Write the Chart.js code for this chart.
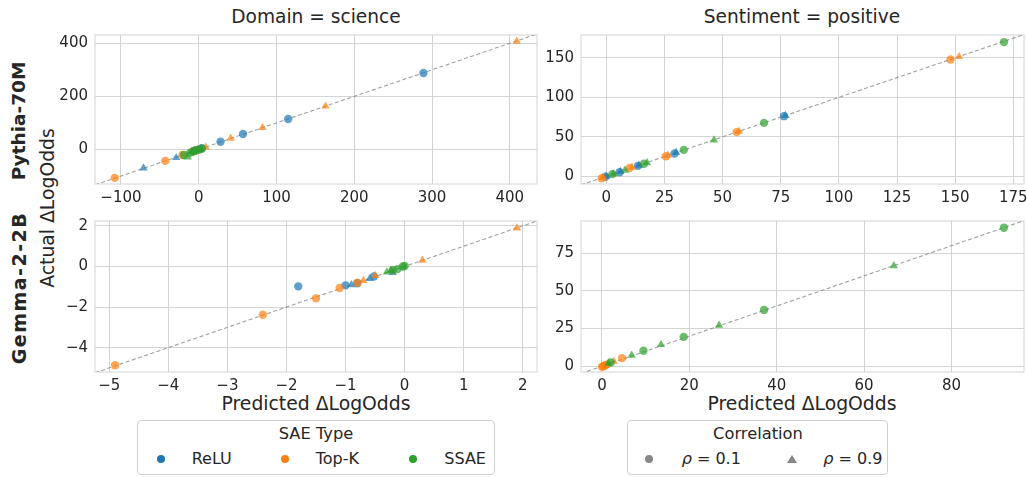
<!DOCTYPE html>
<html><head><meta charset="utf-8">
<script src="https://cdn.jsdelivr.net/npm/chart.js@4.4.0/dist/chart.umd.min.js"></script>
<style>
html,body{margin:0;padding:0;background:#fff;overflow:hidden;width:1027px;height:478px;}
body{position:relative;font-family:"DejaVu Sans",sans-serif;color:#262626;}
canvas{position:absolute;}
.t{position:absolute;white-space:nowrap;transform:translate(-50%,-50%);line-height:1;}
.l{position:absolute;white-space:nowrap;transform:translate(0,-50%);line-height:1;font-size:16px;}
.r{transform:translate(-50%,-50%) rotate(-90deg);}
.leg{position:absolute;border:1px solid #d0d0d0;border-radius:4px;box-sizing:border-box;}
.dot{position:absolute;width:8px;height:8px;border-radius:50%;transform:translate(-50%,-50%);}
.tri{position:absolute;width:0;height:0;border-left:5px solid transparent;border-right:5px solid transparent;border-bottom:8px solid #888;transform:translate(-50%,-50%);}
</style></head><body>

<div class="t" style="left:316px;top:16.5px;font-size:18.6px;">Domain = science</div>
<div class="t" style="left:802px;top:16.5px;font-size:18.6px;">Sentiment = positive</div>
<div class="t r" style="left:18.5px;top:121px;font-size:18.5px;font-weight:bold;">Pythia-70M</div>
<div class="t r" style="left:18.5px;top:288px;font-size:19px;font-weight:bold;letter-spacing:1.5px;">Gemma-2-2B</div>
<div class="t r" style="left:48px;top:208px;font-size:18.8px;">Actual ΔLogOdds</div>
<div class="t" style="left:316px;top:404px;font-size:18.8px;">Predicted ΔLogOdds</div>
<div class="t" style="left:802px;top:404px;font-size:18.8px;">Predicted ΔLogOdds</div>

<div class="leg" style="left:137px;top:420px;width:358px;height:55px;"></div>
<div class="t" style="left:316px;top:434px;font-size:16.3px;">SAE Type</div>
<div class="dot" style="left:160.7px;top:459px;background:#1f77b4;"></div>
<div class="l" style="left:191.7px;top:459px;">ReLU</div>
<div class="dot" style="left:285px;top:459px;background:#ff7f0e;"></div>
<div class="l" style="left:315.7px;top:459px;">Top-K</div>
<div class="dot" style="left:413.3px;top:459px;background:#2ca02c;"></div>
<div class="l" style="left:444.3px;top:459px;">SSAE</div>

<div class="leg" style="left:627px;top:420px;width:261px;height:55px;"></div>
<div class="t" style="left:758px;top:434px;font-size:16.3px;">Correlation</div>
<div class="dot" style="left:649.3px;top:459px;background:#888;"></div>
<div class="l" style="left:681.7px;top:459px;"><i>ρ</i> = 0.1</div>
<div class="tri" style="left:791.7px;top:459px;"></div>
<div class="l" style="left:823.3px;top:459px;"><i>ρ</i> = 0.9</div>

<script>
// ---------- data: [predicted, actual] ----------
// Pythia-70M, Domain = science
const pySciReluLow   = [[4,5],[28,29],[57,58],[115,115],[289,288],[-5,-4]];
const pySciReluHigh  = [[-71,-70],[-29,-31],[-9,-8]];
const pySciTopkLow   = [[-108,-107],[-43,-43],[-21,-21],[-6,-6]];
const pySciTopkHigh  = [[9,8],[41,42],[82,82],[163,163],[409,407],[-2,-2]];
const pySciSsaeLow   = [[-19,-21],[-11,-12],[-8,-9],[-4,-4],[0,-1],[4,3]];
const pySciSsaeHigh  = [[-14,-29],[-6,-6],[-2,-2],[2,2]];
// Pythia-70M, Sentiment = positive
const pySenReluLow   = [[-0.4,-0.5],[5.7,5.2],[13.6,13.3],[29.3,29],[76.4,76.2]];
const pySenReluHigh  = [[0,0],[6,6],[14,14],[30,30],[77,77]];
const pySenTopkLow   = [[-2,-2.4],[10,10.5],[25.6,25.4],[56,56],[148,148]];
const pySenTopkHigh  = [[-1.5,-1.5],[11,11.5],[26.5,26.5],[57,57],[151.7,151.5]];
const pySenSsaeLow   = [[2.6,2.8],[16.2,16],[33.3,33.5],[67.8,67.7],[171,170]];
const pySenSsaeHigh  = [[3,3],[8,7.7],[17.5,17],[46.3,46]];
// Gemma-2-2B, Domain = science
const gmSciReluLow   = [[-1.8,-0.98],[-1.0,-0.93],[-0.8,-0.83],[-0.52,-0.49]];
const gmSciReluHigh  = [[-0.9,-0.9],[-0.59,-0.6],[-0.2,-0.3]];
const gmSciTopkLow   = [[-4.9,-4.87],[-2.4,-2.38],[-1.5,-1.57],[-1.1,-1.06],[-0.8,-0.8]];
const gmSciTopkHigh  = [[-0.7,-0.7],[-0.5,-0.45],[0.3,0.3],[1.9,1.89]];
const gmSciSsaeLow   = [[-0.2,-0.17],[-0.12,-0.13],[-0.03,0],[0,0.02]];
const gmSciSsaeHigh  = [[-0.23,-0.2],[-0.3,-0.28]];
// Gemma-2-2B, Sentiment = positive
const gmSenReluLow   = [];
const gmSenReluHigh  = [];
const gmSenTopkLow   = [[0,-0.3],[0.3,0],[0.6,0.4],[1,1],[4.6,5.4]];
const gmSenTopkHigh  = [[0.8,0.5],[2.7,3.2]];
const gmSenSsaeLow   = [[2,2.5],[9.5,10.3],[18.7,19.5],[37.1,37.4],[92,91.9]];
const gmSenSsaeHigh  = [[1.5,2],[6.8,7.3],[13.5,14.3],[26.8,27.2],[66.8,66.7]];

// tick labels
const pySciXTicks = [-100,0,100,200,300,400];
const pySciYTicks = [0,200,400];
const pySenXTicks = [0,25,50,75,100,125,150,175];
const pySenYTicks = [0,50,100,150];
const gmSciXTicks = [-5,-4,-3,-2,-1,0,1,2];
const gmSciYTicks = [-4,-2,0,2];
const gmSenXTicks = [0,20,40,60,80];
const gmSenYTicks = [0,25,50,75];

// axis limits
const pySciXLim = [-133.4,435], pySciYLim = [-130,431];
const pySenXLim = [-10.9,179.6], pySenYLim = [-9.7,179];
const gmSciXLim = [-5.24,2.24], gmSciYLim = [-5.2,2.24];
const gmSenXLim = [-4.8,96.6], gmSenYLim = [-3.8,96.4];

// ---------- drawing ----------
const COL = {relu:'rgba(31,119,180,0.7)', topk:'rgba(255,127,14,0.7)', ssae:'rgba(44,160,44,0.7)'};
const GRID = '#d4d4d4';
const YW = 60, XH = 30, PT = 10, PR = 10;
const fmt = v => v < 0 ? '\u2212' + Math.abs(v) : String(v);
const toPts = a => a.map(p => ({x:p[0], y:p[1]}));

const frame = {
  id:'frame',
  beforeDatasetsDraw(chart){
    const {ctx, chartArea:a} = chart;
    ctx.save(); ctx.strokeStyle = GRID; ctx.lineWidth = 1;
    ctx.strokeRect(a.left, a.top, a.right - a.left, a.bottom - a.top);
    ctx.restore();
  }
};

function panel(box, xlim, ylim, xt, yt, s){
  const cv = document.createElement('canvas');
  const w = (box.R - box.L) + YW + PR, h = (box.B - box.T) + PT + XH;
  cv.width = w; cv.height = h;
  cv.style.left = (box.L - YW) + 'px'; cv.style.top = (box.T - PT) + 'px';
  cv.style.width = w + 'px'; cv.style.height = h + 'px';
  document.body.appendChild(cv);
  const lo = Math.min(xlim[0], ylim[0]), hi = Math.max(xlim[1], ylim[1]);
  const sc = (data, col, tri, order) => ({
    data: toPts(data), backgroundColor: col, borderWidth: 0,
    pointStyle: tri ? 'triangle' : 'circle', pointRadius: tri ? 4.8 : 4.2, order
  });
  const axis = (lim, ticks, isX) => ({
    type:'linear', min: lim[0], max: lim[1],
    afterBuildTicks: a => { a.ticks = ticks.map(v => ({value:v})); },
    afterFit: a => { if (isX) a.height = XH; else a.width = YW; },
    grid:{color:GRID, lineWidth:1, drawTicks:false},
    border:{display:false},
    ticks:{padding: isX ? 5 : 7, color:'#262626', autoSkip:false, maxRotation:0,
           font:{family:'DejaVu Sans', size:15}, callback: fmt}
  });
  new Chart(cv, {
    type:'scatter',
    data:{datasets:[
      {data:[{x:lo,y:lo},{x:hi,y:hi}], showLine:true, borderColor:'rgba(128,128,128,0.75)',
       borderWidth:1.1, borderDash:[4,2.5], pointRadius:0, order:10},
      sc(s[0], COL.relu, false, 6), sc(s[1], COL.relu, true, 5),
      sc(s[2], COL.topk, false, 4), sc(s[3], COL.topk, true, 3),
      sc(s[4], COL.ssae, false, 2), sc(s[5], COL.ssae, true, 1)
    ]},
    options:{
      responsive:false, animation:false, devicePixelRatio:1,
      layout:{padding:{top:PT, right:PR, left:0, bottom:0}},
      plugins:{legend:{display:false}, tooltip:{enabled:false}},
      scales:{x: axis(xlim, xt, true), y: axis(ylim, yt, false)}
    },
    plugins:[frame]
  });
}

panel({L:95,T:29,R:537,B:184}, pySciXLim, pySciYLim, pySciXTicks, pySciYTicks,
  [pySciReluLow,pySciReluHigh,pySciTopkLow,pySciTopkHigh,pySciSsaeLow,pySciSsaeHigh]);
panel({L:581,T:29,R:1024,B:184}, pySenXLim, pySenYLim, pySenXTicks, pySenYTicks,
  [pySenReluLow,pySenReluHigh,pySenTopkLow,pySenTopkHigh,pySenSsaeLow,pySenSsaeHigh]);
panel({L:95,T:215,R:537,B:372}, gmSciXLim, gmSciYLim, gmSciXTicks, gmSciYTicks,
  [gmSciReluLow,gmSciReluHigh,gmSciTopkLow,gmSciTopkHigh,gmSciSsaeLow,gmSciSsaeHigh]);
panel({L:581,T:215,R:1024,B:372}, gmSenXLim, gmSenYLim, gmSenXTicks, gmSenYTicks,
  [gmSenReluLow,gmSenReluHigh,gmSenTopkLow,gmSenTopkHigh,gmSenSsaeLow,gmSenSsaeHigh]);
</script>
</body></html>
